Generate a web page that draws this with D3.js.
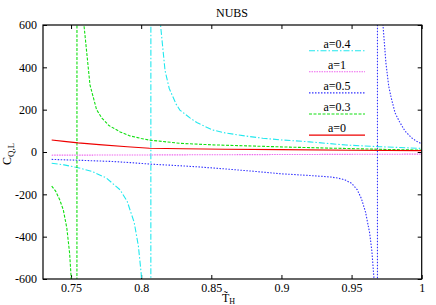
<!DOCTYPE html>
<html>
<head>
<meta charset="utf-8">
<script src="https://cdn.jsdelivr.net/npm/d3@7"></script>
<style>
  body { margin: 0; background: #fff; }
  svg text { font-family: "Liberation Serif", "Times New Roman", Times, serif; font-size: 12px; fill: #000; }
</style>
</head>
<body>
<div id="chart"></div>
<script>
/* CONSTANTS */
const width = 436,
  height = 305,
  margin = { top: 25, bottom: 26, left: 43, right: 14.3 },
  serif = "'Liberation Serif', 'Times New Roman', Times, serif";

/* DATA: [T_H, C_QL] pairs */
const xTicks = [0.75, 0.8, 0.85, 0.9, 0.95, 1];
const yTicks = [-600, -400, -200, 0, 200, 400, 600];

const curveA04 = [
  [0.7362, -53], [0.745, -61], [0.755, -74], [0.765, -92], [0.775, -122],
  [0.785, -179], [0.79, -233], [0.795, -332], [0.798, -444], [0.8, -574],
  [0.802, -810], [0.804, -1370], [0.806, -4400], [0.8068, -5000],
  [0.807, 5000], [0.809, 1800], [0.811, 900], [0.8138, 600], [0.817, 385],
  [0.82, 300], [0.825, 225], [0.8276, 198], [0.835, 160], [0.84, 138],
  [0.851, 104], [0.86, 90], [0.875, 75], [0.8867, 65], [0.9, 57],
  [0.92, 48], [0.946, 33], [0.97, 25], [1.0, 17]
];
const curveA1 = [
  [0.7362, -15], [0.8, -14], [0.9, -12], [1.0, -10]
];
const curveA05 = [
  [0.7362, -35], [0.76, -40], [0.78, -45], [0.792, -50], [0.806, -57],
  [0.82, -62], [0.84, -70], [0.86, -80], [0.88, -91], [0.9, -103],
  [0.92, -111], [0.935, -118], [0.94, -123], [0.945, -131], [0.95, -148],
  [0.954, -178], [0.957, -220], [0.96, -285], [0.9629, -383], [0.9645, -470],
  [0.966, -600], [0.967, -800], [0.968, -2000], [0.9684, -5000],
  [0.9685, 5000], [0.97, 1800], [0.971, 900], [0.9724, 600], [0.9745, 420],
  [0.9765, 310], [0.9783, 255], [0.981, 185], [0.984, 145], [0.988, 100],
  [0.9926, 68], [0.996, 52], [1.0, 38]
];
const curveA03 = [
  [0.7362, -161], [0.739, -185], [0.742, -227], [0.7445, -274], [0.747, -360],
  [0.749, -480], [0.7505, -640], [0.752, -1000], [0.7535, -3000], [0.7541, -5000],
  [0.7543, 5000], [0.7555, 2500], [0.757, 1100], [0.7592, 600], [0.7635, 317],
  [0.7682, 200], [0.772, 160], [0.777, 125], [0.785, 95], [0.792, 76],
  [0.8, 64], [0.806, 56], [0.815, 50], [0.8276, 41], [0.85, 34],
  [0.875, 29], [0.906, 23], [0.93, 19], [0.95, 16], [0.975, 12], [1.0, 9]
];
const curveA0 = [
  [0.7362, 57], [0.745, 50], [0.755, 43], [0.77, 35], [0.79, 25],
  [0.806, 18], [0.83, 15], [0.86, 13], [0.9, 11], [0.95, 8.5], [1.0, 6.5]
];

const series = [
  { label: "a=0.4", values: curveA04, color: "#22e8ee", dash: "6,2,1.5,2" },
  { label: "a=1",   values: curveA1,  color: "#ee66ee", dash: "1.5,1" },
  { label: "a=0.5", values: curveA05, color: "#3333ff", dash: "1.5,1.5" },
  { label: "a=0.3", values: curveA03, color: "#11e011", dash: "3,1.5" },
  { label: "a=0",   values: curveA0,  color: "#ee0000", dash: null }
];

/* SCALES */
const xScale = d3.scaleLinear()
  .domain([0.73, 1])
  .range([margin.left, width - margin.right]);

const yScale = d3.scaleLinear()
  .domain([-600, 600])
  .range([height - margin.bottom, margin.top]);

const svg = d3.select("#chart")
  .append("svg")
  .attr("width", width)
  .attr("height", height)
  .attr("font-family", serif);

svg.append("clipPath")
  .attr("id", "plot-clip")
  .append("rect")
  .attr("x", margin.left)
  .attr("y", margin.top)
  .attr("width", width - margin.right - margin.left)
  .attr("height", height - margin.bottom - margin.top);

// + AXES (gnuplot style: inward ticks mirrored on all four sides)
const tick = 4;
const fmt = d => String(d);

svg.append("g")
  .attr("class", "axis x-axis")
  .attr("transform", `translate(0,${height - margin.bottom})`)
  .call(d3.axisBottom(xScale).tickValues(xTicks).tickFormat(fmt)
    .tickSizeInner(-tick).tickSizeOuter(0).tickPadding(4));

svg.append("g")
  .attr("class", "axis x-axis-top")
  .attr("transform", `translate(0,${margin.top})`)
  .call(d3.axisTop(xScale).tickValues(xTicks).tickFormat("")
    .tickSizeInner(-tick).tickSizeOuter(0));

svg.append("g")
  .attr("class", "axis y-axis")
  .attr("transform", `translate(${margin.left},0)`)
  .call(d3.axisLeft(yScale).tickValues(yTicks).tickFormat(fmt)
    .tickSizeInner(-tick).tickSizeOuter(0).tickPadding(6));

svg.append("g")
  .attr("class", "axis y-axis-right")
  .attr("transform", `translate(${width - margin.right},0)`)
  .call(d3.axisRight(yScale).tickValues(yTicks).tickFormat("")
    .tickSizeInner(-tick).tickSizeOuter(0));

svg.selectAll(".axis")
  .attr("font-family", serif)
  .attr("font-size", 12);
svg.selectAll(".axis .domain").remove();
svg.selectAll(".axis .tick line").attr("stroke", "#000").attr("stroke-width", 1);
svg.selectAll(".axis text").attr("fill", "#000");

// + CURVES
const lineFunc = d3.line()
  .x(d => xScale(d[0]))
  .y(d => yScale(d[1]));

svg.append("g")
  .attr("clip-path", "url(#plot-clip)")
  .selectAll("path.curve")
  .data(series)
  .join("path")
  .attr("class", "curve")
  .attr("fill", "none")
  .attr("stroke", d => d.color)
  .attr("stroke-width", 1.1)
  .attr("stroke-dasharray", d => d.dash)
  .attr("d", d => lineFunc(d.values));

// frame
svg.append("rect")
  .attr("x", margin.left)
  .attr("y", margin.top)
  .attr("width", width - margin.right - margin.left)
  .attr("height", height - margin.bottom - margin.top)
  .attr("fill", "none")
  .attr("stroke", "#000")
  .attr("stroke-width", 1.2);

// + LEGEND
const legend = svg.append("g")
  .attr("class", "legend")
  .selectAll("g")
  .data(series)
  .join("g")
  .attr("transform", (d, i) => `translate(0,${50.7 + i * 21.1})`);

legend.append("line")
  .attr("x1", 309).attr("x2", 365)
  .attr("stroke", d => d.color)
  .attr("stroke-width", 1.1)
  .attr("stroke-dasharray", d => d.dash);

legend.append("text")
  .attr("x", 337)
  .attr("y", -2.7)
  .attr("text-anchor", "middle")
  .text(d => d.label);

// + TITLES
svg.append("text")
  .attr("x", 232)
  .attr("y", 17)
  .attr("text-anchor", "middle")
  .text("NUBS");

const yLabel = svg.append("text")
  .attr("transform", "translate(11,165) rotate(-90)");
yLabel.append("tspan").text("C");
yLabel.append("tspan").attr("dy", 3).style("font-size", "9px").text("Q,L");

const xLabel = svg.append("text")
  .attr("x", 222)
  .attr("y", 302);
xLabel.append("tspan").text("T\u0303");
xLabel.append("tspan").attr("dy", 1.5).style("font-size", "8px").text("H");
</script>
</body>
</html>
